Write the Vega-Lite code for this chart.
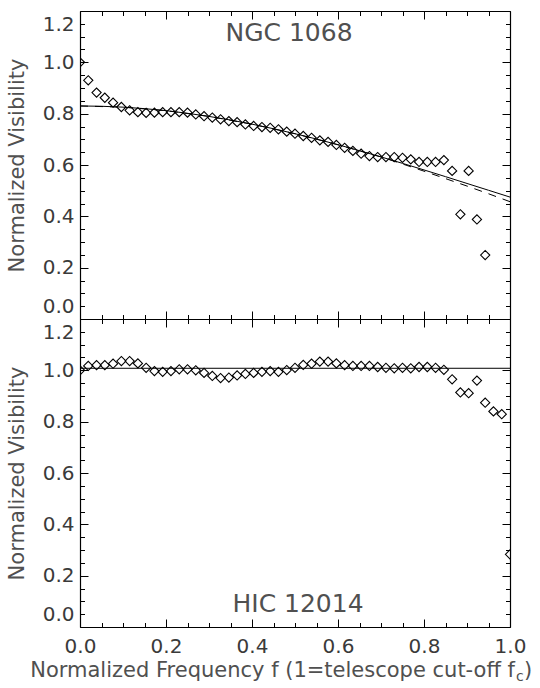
{
  "$schema": "https://vega.github.io/schema/vega-lite/v6.json",
  "padding": {"left": 6, "top": 10, "right": 0, "bottom": 0},
  "spacing": 0,
  "bounds": "flush",
  "config": {
    "view": {"stroke": null},
    "font": "DejaVu Sans",
    "axis": {
      "grid": false,
      "domainColor": "#000000",
      "domainWidth": 1.2,
      "tickColor": "#000000",
      "tickWidth": 1,
      "labelFont": "DejaVu Sans",
      "labelFontSize": 20,
      "labelColor": "#3a3a3a",
      "labelOverlap": false,
      "titleFont": "DejaVu Sans",
      "titleFontSize": 21,
      "titleFontWeight": "normal",
      "titleColor": "#505050"
    }
  },
  "datasets": {
    "ngc": [
      {"f": 0, "v": 1.0}, {"f": 0.0192, "v": 0.93}, {"f": 0.0385, "v": 0.882}, {"f": 0.0577, "v": 0.862},
      {"f": 0.0769, "v": 0.843}, {"f": 0.0962, "v": 0.826}, {"f": 0.1154, "v": 0.813}, {"f": 0.1346, "v": 0.806},
      {"f": 0.1538, "v": 0.803}, {"f": 0.1731, "v": 0.804}, {"f": 0.1923, "v": 0.806}, {"f": 0.2115, "v": 0.806},
      {"f": 0.2308, "v": 0.806}, {"f": 0.25, "v": 0.804}, {"f": 0.2692, "v": 0.797}, {"f": 0.2885, "v": 0.79},
      {"f": 0.3077, "v": 0.785}, {"f": 0.3269, "v": 0.778}, {"f": 0.3462, "v": 0.771}, {"f": 0.3654, "v": 0.767},
      {"f": 0.3846, "v": 0.758}, {"f": 0.4038, "v": 0.752}, {"f": 0.4231, "v": 0.748}, {"f": 0.4423, "v": 0.745},
      {"f": 0.4615, "v": 0.739}, {"f": 0.4808, "v": 0.73}, {"f": 0.5, "v": 0.722}, {"f": 0.5192, "v": 0.713},
      {"f": 0.5385, "v": 0.706}, {"f": 0.5577, "v": 0.696}, {"f": 0.5769, "v": 0.69}, {"f": 0.5962, "v": 0.678},
      {"f": 0.6154, "v": 0.667}, {"f": 0.6346, "v": 0.655}, {"f": 0.6538, "v": 0.644}, {"f": 0.6731, "v": 0.635},
      {"f": 0.6923, "v": 0.631}, {"f": 0.7115, "v": 0.631}, {"f": 0.7308, "v": 0.631}, {"f": 0.75, "v": 0.628},
      {"f": 0.7692, "v": 0.622}, {"f": 0.7885, "v": 0.612}, {"f": 0.8077, "v": 0.612}, {"f": 0.8269, "v": 0.612},
      {"f": 0.8462, "v": 0.619}, {"f": 0.8654, "v": 0.577}, {"f": 0.8846, "v": 0.408}, {"f": 0.9038, "v": 0.577},
      {"f": 0.9231, "v": 0.388}, {"f": 0.9423, "v": 0.249}
    ],
    "ngcSolid": [
      {"f": 0, "v": 0.83}, {"f": 0.05, "v": 0.8288}, {"f": 0.1, "v": 0.8254}, {"f": 0.15, "v": 0.8196},
      {"f": 0.2, "v": 0.8117}, {"f": 0.25, "v": 0.8015}, {"f": 0.3, "v": 0.7893}, {"f": 0.35, "v": 0.7752},
      {"f": 0.4, "v": 0.7591}, {"f": 0.45, "v": 0.7413}, {"f": 0.5, "v": 0.7219}, {"f": 0.55, "v": 0.7011},
      {"f": 0.6, "v": 0.6789}, {"f": 0.65, "v": 0.6557}, {"f": 0.7, "v": 0.6315}, {"f": 0.75, "v": 0.6064},
      {"f": 0.8, "v": 0.5808}, {"f": 0.85, "v": 0.5546}, {"f": 0.9, "v": 0.5281}, {"f": 0.95, "v": 0.5016},
      {"f": 1.0, "v": 0.475}
    ],
    "ngcDashed": [
      {"f": 0, "v": 0.83}, {"f": 0.1, "v": 0.8254}, {"f": 0.2, "v": 0.8117}, {"f": 0.3, "v": 0.7893},
      {"f": 0.4, "v": 0.7591}, {"f": 0.5, "v": 0.7219}, {"f": 0.6, "v": 0.6789}, {"f": 0.7, "v": 0.6315},
      {"f": 0.75, "v": 0.604}, {"f": 0.8, "v": 0.576}, {"f": 0.85, "v": 0.547}, {"f": 0.9, "v": 0.518},
      {"f": 0.95, "v": 0.488}, {"f": 1.0, "v": 0.457}
    ],
    "hic": [
      {"f": 0, "v": 1.0}, {"f": 0.0192, "v": 1.017}, {"f": 0.0385, "v": 1.02}, {"f": 0.0577, "v": 1.02},
      {"f": 0.0769, "v": 1.026}, {"f": 0.0962, "v": 1.036}, {"f": 0.1154, "v": 1.036}, {"f": 0.1346, "v": 1.027},
      {"f": 0.1538, "v": 1.01}, {"f": 0.1731, "v": 0.997}, {"f": 0.1923, "v": 0.994}, {"f": 0.2115, "v": 0.997},
      {"f": 0.2308, "v": 1.004}, {"f": 0.25, "v": 1.004}, {"f": 0.2692, "v": 1.0}, {"f": 0.2885, "v": 0.99},
      {"f": 0.3077, "v": 0.978}, {"f": 0.3269, "v": 0.97}, {"f": 0.3462, "v": 0.972}, {"f": 0.3654, "v": 0.98},
      {"f": 0.3846, "v": 0.986}, {"f": 0.4038, "v": 0.99}, {"f": 0.4231, "v": 0.994}, {"f": 0.4423, "v": 0.997},
      {"f": 0.4615, "v": 0.994}, {"f": 0.4808, "v": 1.001}, {"f": 0.5, "v": 1.01}, {"f": 0.5192, "v": 1.021},
      {"f": 0.5385, "v": 1.026}, {"f": 0.5577, "v": 1.034}, {"f": 0.5769, "v": 1.034}, {"f": 0.5962, "v": 1.027},
      {"f": 0.6154, "v": 1.02}, {"f": 0.6346, "v": 1.017}, {"f": 0.6538, "v": 1.017}, {"f": 0.6731, "v": 1.017},
      {"f": 0.6923, "v": 1.013}, {"f": 0.7115, "v": 1.01}, {"f": 0.7308, "v": 1.008}, {"f": 0.75, "v": 1.01},
      {"f": 0.7692, "v": 1.008}, {"f": 0.7885, "v": 1.013}, {"f": 0.8077, "v": 1.013}, {"f": 0.8269, "v": 1.01},
      {"f": 0.8462, "v": 1.002}, {"f": 0.8654, "v": 0.965}, {"f": 0.8846, "v": 0.914}, {"f": 0.9038, "v": 0.911},
      {"f": 0.9231, "v": 0.96}, {"f": 0.9423, "v": 0.874}, {"f": 0.9615, "v": 0.84}, {"f": 0.9808, "v": 0.829},
      {"f": 1.0, "v": 0.283}
    ],
    "hicFit": [
      {"f": 0, "v": 1.008}, {"f": 1.0, "v": 1.008}
    ]
  },
  "vconcat": [
    {
      "width": 430,
      "height": 308,
      "resolve": {"axis": {"x": "independent", "y": "independent"}},
      "layer": [
        {
          "data": {"name": "ngc"},
          "mark": {"type": "point", "shape": "diamond", "size": 85, "filled": false, "stroke": "#000000", "strokeWidth": 1.1, "opacity": 1, "clip": true},
          "encoding": {
            "x": {"field": "f", "type": "quantitative", "scale": {"domain": [0, 1], "nice": false, "zero": false},
              "axis": {"orient": "bottom", "title": null, "labels": false,
                "values": [0,0.05,0.1,0.15,0.2,0.25,0.3,0.35,0.4,0.45,0.5,0.55,0.6,0.65,0.7,0.75,0.8,0.85,0.9,0.95,1],
                "tickSize": {"condition": {"test": "abs(datum.value*5 - round(datum.value*5)) < 0.01", "value": -8}, "value": -4.5}}},
            "y": {"field": "v", "type": "quantitative", "scale": {"domain": [0, 1.2], "nice": false, "zero": false},
              "axis": {"orient": "left", "title": "Normalized Visibility", "titlePadding": 15,
                "values": [0,0.05,0.1,0.15,0.2,0.25,0.3,0.35,0.4,0.45,0.5,0.55,0.6,0.65,0.7,0.75,0.8,0.85,0.9,0.95,1,1.05,1.1,1.15,1.2],
                "labelExpr": "abs(datum.value*5 - round(datum.value*5)) < 0.01 ? format(datum.value, '.1f') : ''",
                "labelFlush": true, "labelFlushOffset": -3, "labelPadding": 14,
                "tickSize": {"condition": {"test": "abs(datum.value*5 - round(datum.value*5)) < 0.01", "value": -8}, "value": -4.5}}}
          }
        },
        {
          "data": {"name": "ngcSolid"},
          "mark": {"type": "line", "stroke": "#000000", "strokeWidth": 1},
          "encoding": {
            "x": {"field": "f", "type": "quantitative", "scale": {"domain": [0, 1], "nice": false, "zero": false},
              "axis": {"orient": "top", "title": null, "labels": false,
                "values": [0,0.05,0.1,0.15,0.2,0.25,0.3,0.35,0.4,0.45,0.5,0.55,0.6,0.65,0.7,0.75,0.8,0.85,0.9,0.95,1],
                "tickSize": {"condition": {"test": "abs(datum.value*5 - round(datum.value*5)) < 0.01", "value": -8}, "value": -4.5}}},
            "y": {"field": "v", "type": "quantitative", "scale": {"domain": [0, 1.2], "nice": false, "zero": false},
              "axis": {"orient": "right", "title": null, "labels": false,
                "values": [0,0.05,0.1,0.15,0.2,0.25,0.3,0.35,0.4,0.45,0.5,0.55,0.6,0.65,0.7,0.75,0.8,0.85,0.9,0.95,1,1.05,1.1,1.15,1.2],
                "tickSize": {"condition": {"test": "abs(datum.value*5 - round(datum.value*5)) < 0.01", "value": -8}, "value": -4.5}}}
          }
        },
        {
          "data": {"name": "ngcDashed"},
          "mark": {"type": "line", "stroke": "#000000", "strokeWidth": 1, "strokeDash": [8, 7]},
          "encoding": {
            "x": {"field": "f", "type": "quantitative", "axis": null},
            "y": {"field": "v", "type": "quantitative", "axis": null}
          }
        },
        {
          "data": {"values": [{"label": "NGC 1068"}]},
          "mark": {"type": "text", "fontSize": 25, "color": "#505050", "align": "center", "baseline": "middle", "font": "DejaVu Sans"},
          "encoding": {
            "x": {"datum": 0.486, "type": "quantitative", "axis": null},
            "y": {"datum": 1.114, "type": "quantitative", "axis": null},
            "text": {"field": "label"}
          }
        }
      ]
    },
    {
      "width": 430,
      "height": 308,
      "resolve": {"axis": {"x": "independent", "y": "independent"}},
      "layer": [
        {
          "data": {"name": "hic"},
          "mark": {"type": "point", "shape": "diamond", "size": 85, "filled": false, "stroke": "#000000", "strokeWidth": 1.1, "opacity": 1, "clip": true},
          "encoding": {
            "x": {"field": "f", "type": "quantitative", "scale": {"domain": [0, 1], "nice": false, "zero": false},
              "axis": {"orient": "bottom", "title": null,
                "values": [0,0.05,0.1,0.15,0.2,0.25,0.3,0.35,0.4,0.45,0.5,0.55,0.6,0.65,0.7,0.75,0.8,0.85,0.9,0.95,1],
                "labelExpr": "abs(datum.value*5 - round(datum.value*5)) < 0.01 ? format(datum.value, '.1f') : ''",
                "labelFlush": false, "labelPadding": 17,
                "tickSize": {"condition": {"test": "abs(datum.value*5 - round(datum.value*5)) < 0.01", "value": -8}, "value": -4.5}}},
            "y": {"field": "v", "type": "quantitative", "scale": {"domain": [0, 1.2], "nice": false, "zero": false},
              "axis": {"orient": "left", "title": "Normalized Visibility", "titlePadding": 15,
                "values": [0,0.05,0.1,0.15,0.2,0.25,0.3,0.35,0.4,0.45,0.5,0.55,0.6,0.65,0.7,0.75,0.8,0.85,0.9,0.95,1,1.05,1.1,1.15,1.2],
                "labelExpr": "abs(datum.value*5 - round(datum.value*5)) < 0.01 ? format(datum.value, '.1f') : ''",
                "labelFlush": true, "labelFlushOffset": -3, "labelPadding": 14,
                "tickSize": {"condition": {"test": "abs(datum.value*5 - round(datum.value*5)) < 0.01", "value": -8}, "value": -4.5}}}
          }
        },
        {
          "data": {"name": "hicFit"},
          "mark": {"type": "line", "stroke": "#000000", "strokeWidth": 1},
          "encoding": {
            "x": {"field": "f", "type": "quantitative", "scale": {"domain": [0, 1], "nice": false, "zero": false},
              "axis": {"orient": "top", "title": null, "labels": false,
                "values": [0,0.05,0.1,0.15,0.2,0.25,0.3,0.35,0.4,0.45,0.5,0.55,0.6,0.65,0.7,0.75,0.8,0.85,0.9,0.95,1],
                "tickSize": {"condition": {"test": "abs(datum.value*5 - round(datum.value*5)) < 0.01", "value": -8}, "value": -4.5}}},
            "y": {"field": "v", "type": "quantitative", "scale": {"domain": [0, 1.2], "nice": false, "zero": false},
              "axis": {"orient": "right", "title": null, "labels": false,
                "values": [0,0.05,0.1,0.15,0.2,0.25,0.3,0.35,0.4,0.45,0.5,0.55,0.6,0.65,0.7,0.75,0.8,0.85,0.9,0.95,1,1.05,1.1,1.15,1.2],
                "tickSize": {"condition": {"test": "abs(datum.value*5 - round(datum.value*5)) < 0.01", "value": -8}, "value": -4.5}}}
          }
        },
        {
          "data": {"values": [{"label": "HIC 12014"}]},
          "mark": {"type": "text", "fontSize": 25, "color": "#505050", "align": "center", "baseline": "middle", "font": "DejaVu Sans"},
          "encoding": {
            "x": {"datum": 0.507, "type": "quantitative", "axis": null},
            "y": {"datum": 0.09, "type": "quantitative", "axis": null},
            "text": {"field": "label"}
          }
        },
        {
          "data": {"values": [{"label": "Normalized Frequency f (1=telescope cut-off f"}]},
          "mark": {"type": "text", "fontSize": 21, "color": "#505050", "align": "right", "baseline": "alphabetic", "font": "DejaVu Sans"},
          "encoding": {
            "x": {"datum": 1.0116, "type": "quantitative", "axis": null},
            "y": {"datum": -0.195, "type": "quantitative", "axis": null},
            "text": {"field": "label"}
          }
        },
        {
          "data": {"values": [{"label": "c"}]},
          "mark": {"type": "text", "fontSize": 14, "color": "#505050", "align": "left", "baseline": "alphabetic", "dx": 1, "dy": 4, "font": "DejaVu Sans"},
          "encoding": {
            "x": {"datum": 1.0116, "type": "quantitative", "axis": null},
            "y": {"datum": -0.195, "type": "quantitative", "axis": null},
            "text": {"field": "label"}
          }
        },
        {
          "data": {"values": [{"label": ")"}]},
          "mark": {"type": "text", "fontSize": 21, "color": "#505050", "align": "left", "baseline": "alphabetic", "dx": 9, "font": "DejaVu Sans"},
          "encoding": {
            "x": {"datum": 1.0116, "type": "quantitative", "axis": null},
            "y": {"datum": -0.195, "type": "quantitative", "axis": null},
            "text": {"field": "label"}
          }
        }
      ]
    }
  ]
}
